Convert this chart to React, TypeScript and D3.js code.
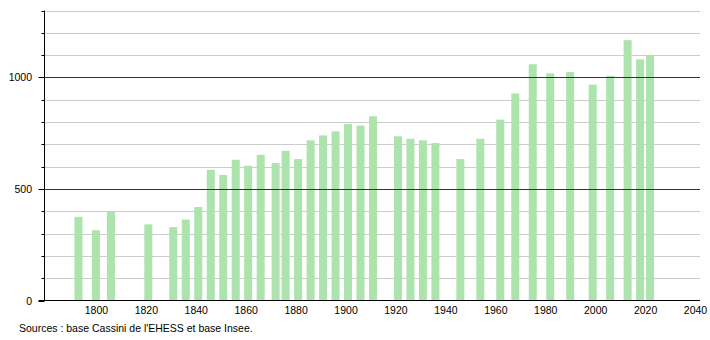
import React from "react";
import * as d3 from "d3";

const years = [1793, 1800, 1806, 1821, 1831, 1836, 1841, 1846, 1851, 1856, 1861, 1866, 1872, 1876, 1881, 1886, 1891, 1896, 1901, 1906, 1911, 1921, 1926, 1931, 1936, 1946, 1954, 1962, 1968, 1975, 1982, 1990, 1999, 2006, 2013, 2018, 2022];
const population = [375, 315, 401, 341, 329, 363, 419, 586, 563, 631, 604, 653, 616, 671, 634, 718, 740, 758, 791, 784, 826, 736, 725, 718, 706, 634, 725, 811, 928, 1059, 1018, 1024, 968, 1007, 1167, 1081, 1100];
const xTicks = [1800, 1820, 1840, 1860, 1880, 1900, 1920, 1940, 1960, 1980, 2000, 2020, 2040];
const yMajor = [0, 500, 1000];
const yMinor = [100, 200, 300, 400, 600, 700, 800, 900, 1100, 1200, 1300];
const sourceText = "Sources : base Cassini de l'EHESS et base Insee.";

export default function App() {
  const W = 710, H = 340;
  const left = 44.5, right = 700, top = 10.5, bottom = 300.5;
  const x = d3.scaleLinear().domain([1779, 2041.6]).range([left, right]);
  const y = d3.scaleLinear().domain([0, 1300]).range([bottom, top]);
  const font = "'Liberation Sans', Arial, sans-serif";
  return (
    <svg width={W} height={H} style={{ position: "absolute", left: 0, top: 0, background: "#fff" }}>
      {yMinor.map((v) => (
        <g key={"mi" + v}>
          <line x1={left} x2={right} y1={Math.round(y(v)) + 0.5} y2={Math.round(y(v)) + 0.5} stroke="#cccccc" strokeWidth={1} />
          <line x1={left - 3} x2={left} y1={Math.round(y(v)) + 0.5} y2={Math.round(y(v)) + 0.5} stroke="#000" strokeWidth={1} />
        </g>
      ))}
      {years.map((yr, i) => (
        <rect key={yr} x={x(yr) - 5} width={8} y={y(population[i])} height={bottom - y(population[i])} fill="#ade3ad" />
      ))}
      {yMajor.filter((v) => v > 0).map((v) => (
        <line key={"ma" + v} x1={left} x2={right} y1={Math.round(y(v)) + 0.5} y2={Math.round(y(v)) + 0.5} stroke="#333" strokeWidth={1} />
      ))}
      {yMajor.map((v) => (
        <g key={"ml" + v}>
          <line x1={left - 6} x2={left} y1={Math.round(y(v)) + 0.5} y2={Math.round(y(v)) + 0.5} stroke="#000" strokeWidth={1} />
          <text x={32} y={y(v) + 4} textAnchor="end" fontFamily={font} fontSize={10.5} fill="#000">{v}</text>
        </g>
      ))}
      <line x1={left} x2={left} y1={top} y2={bottom} stroke="#000" strokeWidth={1} />
      <line x1={left - 6} x2={right} y1={bottom} y2={bottom} stroke="#000" strokeWidth={1} />
      {xTicks.map((t) => (
        <text key={t} x={x(t) - 0.5} y={314} textAnchor="middle" fontFamily={font} fontSize={10.5} fill="#000">{t}</text>
      ))}
      <text x={19} y={332} fontFamily={font} fontSize={10.5} fill="#000">{sourceText}</text>
    </svg>
  );
}
